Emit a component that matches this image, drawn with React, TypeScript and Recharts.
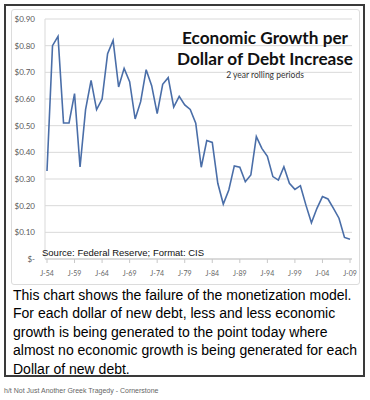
import { CartesianGrid, Line, LineChart, XAxis, YAxis } from "recharts";

// category labels, one per year 1954 - 2009
const labels = [
  "J-54", "J-55", "J-56", "J-57", "J-58", "J-59", "J-60", "J-61", "J-62", "J-63",
  "J-64", "J-65", "J-66", "J-67", "J-68", "J-69", "J-70", "J-71", "J-72", "J-73",
  "J-74", "J-75", "J-76", "J-77", "J-78", "J-79", "J-80", "J-81", "J-82", "J-83",
  "J-84", "J-85", "J-86", "J-87", "J-88", "J-89", "J-90", "J-91", "J-92", "J-93",
  "J-94", "J-95", "J-96", "J-97", "J-98", "J-99", "J-00", "J-01", "J-02", "J-03",
  "J-04", "J-05", "J-06", "J-07", "J-08", "J-09",
];

// growth per dollar of debt increase (2 year rolling)
const growth = [
  0.33, 0.8, 0.835, 0.51, 0.51, 0.62, 0.345, 0.56, 0.67, 0.56,
  0.6, 0.77, 0.82, 0.645, 0.715, 0.665, 0.525, 0.59, 0.71, 0.65,
  0.545, 0.655, 0.68, 0.57, 0.61, 0.578, 0.561, 0.509, 0.344, 0.444,
  0.437, 0.284, 0.206, 0.259, 0.349, 0.344, 0.29, 0.315, 0.459, 0.415,
  0.385, 0.309, 0.296, 0.346, 0.284, 0.261, 0.275, 0.202, 0.136, 0.19,
  0.234, 0.225, 0.19, 0.153, 0.081, 0.074,
];

const yTicks = [0, 0.1, 0.2, 0.3, 0.4, 0.5, 0.6, 0.7, 0.8, 0.9];

const data = labels.map((label, i) => ({ label, growth: growth[i] }));

const fmtDollar = (v: number) => (v === 0 ? "$-" : `$${v.toFixed(2)}`);

export default function App() {
  return (
    <div style={{ position: "absolute", left: 0, top: 0, width: 370, height: 400, background: "#fff" }}>
      {/* outer box */}
      <div
        style={{
          position: "absolute",
          left: 4,
          top: 4,
          width: 357,
          height: 369,
          border: "2px solid #3a3a3a",
        }}
      />
      {/* chart frame */}
      <div
        style={{
          position: "absolute",
          left: 11,
          top: 9,
          width: 347,
          height: 274,
          border: "1px solid #dcdcdc",
          borderRadius: 3,
        }}
      />

      <LineChart
        width={370}
        height={290}
        data={data}
        margin={{ top: 19, right: 18, bottom: 0, left: 0 }}
        style={{ position: "absolute", left: 0, top: 0 }}
      >
        <CartesianGrid vertical={false} stroke="#d9d9d9" />
        <XAxis
          dataKey="label"
          interval={4}
          height={31}
          padding={{ left: 2, right: 2 }}
          tickSize={4}
          tickMargin={8}
          axisLine={{ stroke: "#c8c8c8" }}
          tickLine={{ stroke: "#c8c8c8" }}
          tick={{ fontSize: 7, fill: "#666", fontFamily: "Lato" }}
        />
        <YAxis
          width={45}
          domain={[0, 0.9]}
          ticks={yTicks}
          tickFormatter={fmtDollar}
          tickSize={0}
          tickMargin={10}
          tickLine={false}
          axisLine={{ stroke: "#d9d9d9" }}
          tick={{ fontSize: 8, fill: "#595959", fontFamily: "Lato" }}
        />
        <Line
          type="linear"
          dataKey="growth"
          stroke="#4a6ea8"
          strokeWidth={1.6}
          dot={false}
          isAnimationActive={false}
        />
      </LineChart>

      {/* title block */}
      <div
        style={{
          position: "absolute",
          left: 165,
          top: 27,
          width: 200,
          textAlign: "center",
          fontFamily: "Lato",
          fontWeight: 700,
          fontSize: 17.2,
          lineHeight: "21px",
          color: "#111",
        }}
      >
        Economic Growth per
        <br />
        Dollar of Debt Increase
        <div style={{ fontSize: 8.5, fontWeight: 400, lineHeight: "12px", color: "#333" }}>
          2 year rolling periods
        </div>
      </div>

      <div
        style={{
          position: "absolute",
          left: 42,
          top: 247,
          fontFamily: "Liberation Sans",
          fontSize: 9.5,
          color: "#111",
          whiteSpace: "nowrap",
        }}
      >
        Source: Federal Reserve; Format: CIS
      </div>

      {/* caption */}
      <div
        style={{
          position: "absolute",
          left: 13,
          top: 286,
          fontFamily: "Liberation Sans",
          fontSize: 14,
          lineHeight: "18.4px",
          color: "#000",
          whiteSpace: "nowrap",
        }}
      >
        This chart shows the failure of the monetization model.
        <br />
        For each dollar of new debt, less and less economic
        <br />
        growth is being generated to the point today where
        <br />
        almost no economic growth is being generated for each
        <br />
        Dollar of new debt.
      </div>

      <div
        style={{
          position: "absolute",
          left: 4,
          top: 387,
          fontFamily: "Liberation Sans",
          fontSize: 7,
          color: "#666",
          whiteSpace: "nowrap",
        }}
      >
        h/t Not Just Another Greek Tragedy - Cornerstone
      </div>
    </div>
  );
}
